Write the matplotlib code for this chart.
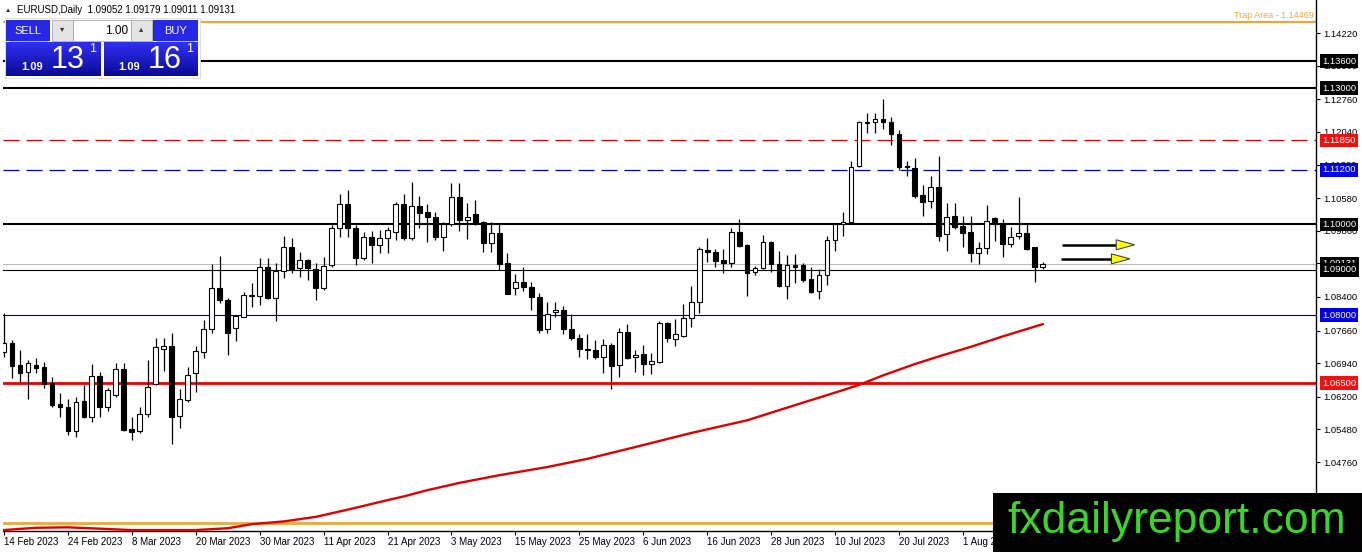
import numpy as np
import matplotlib
matplotlib.use('Agg')
import matplotlib.pyplot as plt
import matplotlib.transforms as mtransforms
from matplotlib.patches import Rectangle, Polygon
from matplotlib.colors import LinearSegmentedColormap

plt.rcParams['font.family'] = ['Liberation Sans', 'DejaVu Sans']

# EURUSD daily candles, 14 Feb 2023 onwards
opens = [1.0719, 1.0738, 1.0690, 1.0674, 1.0690, 1.0686, 1.0650, 1.0604, 1.0597, 1.0544,
         1.0611, 1.0575, 1.0666, 1.0597, 1.0624, 1.0681, 1.0549, 1.0544, 1.0582, 1.0648,
         1.0725, 1.0732, 1.0577, 1.0613, 1.0672, 1.0719, 1.0769, 1.0860, 1.0833, 1.0772,
         1.0796, 1.0842, 1.0842, 1.0906, 1.0838, 1.0897, 1.0950, 1.0904, 1.0921, 1.0902,
         1.0860, 1.0910, 1.0992, 1.1045, 1.0992, 1.0926, 1.0972, 1.0955, 1.0970, 1.0983,
         1.1045, 1.0970, 1.1041, 1.1027, 1.1016, 1.0972, 1.1001, 1.1060, 1.1010, 1.1023,
         1.1005, 1.0959, 1.0981, 1.0915, 1.0860, 1.0873, 1.0862, 1.0840, 1.0769, 1.0807,
         1.0811, 1.0769, 1.0750, 1.0725, 1.0723, 1.0708, 1.0734, 1.0690, 1.0763, 1.0708,
         1.0714, 1.0692, 1.0697, 1.0783, 1.0747, 1.0754, 1.0794, 1.0829, 1.0943, 1.0939,
         1.0921, 1.0915, 1.0983, 1.0955, 1.0895, 1.0904, 1.0961, 1.0913, 1.0864, 1.0910,
         1.0910, 1.0880, 1.0853, 1.0888, 1.0966, 1.1001, 1.1005, 1.1129, 1.1226, 1.1226,
         1.1232, 1.1226, 1.1199, 1.1129, 1.1124, 1.1065, 1.1052, 1.1082, 1.0979, 1.1019,
         1.0997, 1.0983, 1.0937, 1.0948, 1.1014, 1.1001, 1.0957, 1.0974, 1.0981, 1.0950,
         1.09052]
highs = [1.0805, 1.0745, 1.0723, 1.0701, 1.0705, 1.0697, 1.0663, 1.0628, 1.0615, 1.0619,
         1.0646, 1.0692, 1.0674, 1.0639, 1.0694, 1.0694, 1.0575, 1.0597, 1.0701, 1.0750,
         1.0750, 1.0761, 1.0637, 1.0686, 1.0732, 1.0789, 1.0913, 1.0930, 1.0838, 1.0800,
         1.0851, 1.0871, 1.0926, 1.0926, 1.0915, 1.0974, 1.0970, 1.0939, 1.0924, 1.0915,
         1.0928, 1.0999, 1.1067, 1.1076, 1.0999, 1.0983, 1.0985, 1.0988, 1.0994, 1.1049,
         1.1067, 1.1093, 1.1063, 1.1045, 1.1027, 1.1005, 1.1091, 1.1091, 1.1047, 1.1054,
         1.1008, 1.1005, 1.1003, 1.0937, 1.0891, 1.0906, 1.0873, 1.0849, 1.0829, 1.0829,
         1.0820, 1.0802, 1.0758, 1.0758, 1.0745, 1.0747, 1.0738, 1.0772, 1.0780, 1.0723,
         1.0734, 1.0716, 1.0787, 1.0785, 1.0791, 1.0824, 1.0864, 1.0950, 1.0970, 1.0946,
         1.0946, 1.0992, 1.1012, 1.0957, 1.0908, 1.0977, 1.0963, 1.0941, 1.0932, 1.0935,
         1.0915, 1.0906, 1.0902, 1.0974, 1.1003, 1.1027, 1.1140, 1.1228, 1.1246, 1.1246,
         1.1277, 1.1237, 1.1208, 1.1140, 1.1146, 1.1087, 1.1107, 1.1151, 1.1047, 1.1047,
         1.1019, 1.1019, 1.0961, 1.1043, 1.1016, 1.1012, 1.0994, 1.1060, 1.1003, 1.0950,
         1.09179]
lows = [1.0708, 1.0661, 1.0652, 1.0615, 1.0672, 1.0639, 1.0597, 1.0575, 1.0536, 1.0531,
        1.0573, 1.0564, 1.0575, 1.0589, 1.0619, 1.0544, 1.0525, 1.0540, 1.0575, 1.0646,
        1.0677, 1.0516, 1.0551, 1.0608, 1.0630, 1.0705, 1.0761, 1.0827, 1.0712, 1.0743,
        1.0796, 1.0818, 1.0822, 1.0835, 1.0787, 1.0882, 1.0893, 1.0884, 1.0877, 1.0833,
        1.0855, 1.0906, 1.0972, 1.0972, 1.0910, 1.0921, 1.0915, 1.0937, 1.0937, 1.0966,
        1.0966, 1.0966, 1.0992, 1.0961, 1.0966, 1.0941, 1.0997, 1.0985, 1.0968, 1.0999,
        1.0939, 1.0939, 1.0899, 1.0847, 1.0844, 1.0853, 1.0811, 1.0761, 1.0761, 1.0796,
        1.0758, 1.0745, 1.0708, 1.0703, 1.0703, 1.0672, 1.0637, 1.0663, 1.0703, 1.0674,
        1.0668, 1.0670, 1.0694, 1.0741, 1.0732, 1.0752, 1.0774, 1.0805, 1.0917, 1.0906,
        1.0893, 1.0906, 1.0950, 1.0842, 1.0888, 1.0902, 1.0895, 1.0862, 1.0835, 1.0871,
        1.0873, 1.0849, 1.0835, 1.0866, 1.0941, 1.0974, 1.1003, 1.1127, 1.1202, 1.1202,
        1.1210, 1.1175, 1.1120, 1.1107, 1.1058, 1.1019, 1.1036, 1.0963, 1.0941, 1.0990,
        1.0950, 1.0917, 1.0913, 1.0935, 1.0963, 1.0928, 1.0950, 1.0968, 1.0943, 1.0873,
        1.09011]
closes = [1.0738, 1.0688, 1.0672, 1.0694, 1.0683, 1.0648, 1.0602, 1.0597, 1.0544, 1.0608,
          1.0575, 1.0666, 1.0597, 1.0635, 1.0681, 1.0547, 1.0542, 1.0582, 1.0641, 1.0730,
          1.0732, 1.0575, 1.0615, 1.0668, 1.0721, 1.0769, 1.0860, 1.0833, 1.0761, 1.0798,
          1.0844, 1.0844, 1.0906, 1.0838, 1.0897, 1.0950, 1.0902, 1.0921, 1.0904, 1.0860,
          1.0908, 1.0992, 1.1045, 1.0992, 1.0926, 1.0972, 1.0955, 1.0970, 1.0988, 1.1045,
          1.0970, 1.1041, 1.1025, 1.1016, 1.0972, 1.1001, 1.1060, 1.1010, 1.1016, 1.1003,
          1.0959, 1.0981, 1.0913, 1.0847, 1.0873, 1.0862, 1.0840, 1.0767, 1.0802, 1.0811,
          1.0769, 1.0750, 1.0725, 1.0723, 1.0708, 1.0734, 1.0688, 1.0763, 1.0705, 1.0712,
          1.0692, 1.0699, 1.0783, 1.0750, 1.0758, 1.0794, 1.0829, 1.0946, 1.0939, 1.0919,
          1.0915, 1.0983, 1.0952, 1.0893, 1.0904, 1.0961, 1.0913, 1.0864, 1.0910, 1.0906,
          1.0877, 1.0851, 1.0888, 1.0966, 1.1001, 1.1005, 1.1127, 1.1226, 1.1224, 1.1232,
          1.1226, 1.1199, 1.1127, 1.1127, 1.1063, 1.1049, 1.1082, 1.0974, 1.1016, 1.0994,
          1.0981, 1.0937, 1.0948, 1.1008, 1.1001, 1.0957, 1.0972, 1.0981, 1.0946, 1.0906,
          1.09131]

# moving average (red curve), read at these bar indices
ma_bars = [0, 4, 8, 12, 16, 24, 28, 31, 35, 39, 44, 48, 50, 53, 57, 62, 68, 73, 79,
           86, 93, 100, 104, 107, 110, 114, 117, 121, 125, 130]
ma_vals = [1.0326, 1.0331, 1.0332, 1.0329, 1.0326, 1.0326, 1.0330, 1.0339, 1.0345, 1.0355,
           1.0375, 1.0392, 1.0400, 1.0414, 1.0430, 1.0447, 1.0465, 1.0483, 1.0509,
           1.0540, 1.0568, 1.0607, 1.0629, 1.0646, 1.0667, 1.0692, 1.0709, 1.0730, 1.0753, 1.0780]

date_labels = ['14 Feb 2023', '24 Feb 2023', '8 Mar 2023', '20 Mar 2023', '30 Mar 2023',
               '11 Apr 2023', '21 Apr 2023', '3 May 2023', '15 May 2023', '25 May 2023',
               '6 Jun 2023', '16 Jun 2023', '28 Jun 2023', '10 Jul 2023', '20 Jul 2023',
               '1 Aug 2023']
price_ticks = [1.14220, 1.13500, 1.12760, 1.12040, 1.11320, 1.10580, 1.09860, 1.09140,
               1.08400, 1.07660, 1.06940, 1.06200, 1.05480, 1.04760]

# horizontal levels
level_prices = [1.14469, 1.13600, 1.13000, 1.11850, 1.11200, 1.10000, 1.09131, 1.09000, 1.08000, 1.06500, 1.03420]
level_colors = ['#EBA83A', 'black', 'black', '#DD0000', '#0000CC', 'black', '#BBBBBB', 'black', '#000099', '#EE0000', '#EBA83A']
level_widths = [1.6, 1.5, 1.5, 0.9, 0.9, 1.5, 0.8, 0.8, 0.8, 2.0, 2.0]
level_styles = ['-', '-', '-', (0, (12.8, 5.6)), (0, (12.8, 5.6)), '-', '-', '-', '-', '-', '-']

# price boxes on the right scale
box_prices = [1.13600, 1.13000, 1.11850, 1.11200, 1.10000, 1.09131, 1.09000, 1.08000, 1.06500]
box_colors = ['black', 'black', '#EE1111', '#0000EE', 'black', 'black', 'black', '#0000EE', '#EE1111']

arrow_y = [1.0955, 1.0924]
arrow_start = [132.4, 132.3]
arrow_tip = [141.5, 140.9]

W, H = 1362, 552
fig = plt.figure(figsize=(W / 100, H / 100), dpi=100)
ax = fig.add_axes([3 / W, 21 / H, 1313 / W, 531 / H])
ax.set_xlim(-0.125, 164.2)
ax.set_ylim(1.03239, 1.14948)

n = len(opens)
x = np.arange(n)
o = np.array(opens); c = np.array(closes)
hi = np.array(highs); lo = np.array(lows)
up = c >= o

ax.vlines(x, lo, hi, color='black', lw=0.9, zorder=3)
body_h = np.maximum(np.abs(c - o), 0.00004)
ax.bar(x, body_h, bottom=np.minimum(o, c), width=0.6,
       color=np.where(up, 'white', 'black'), edgecolor='black', linewidth=0.8, zorder=4)

for p, col, lw, ls in zip(level_prices, level_colors, level_widths, level_styles):
    ax.axhline(p, color=col, lw=lw, linestyle=ls, zorder=2)

ax.plot(ma_bars, ma_vals, color='#E00000', lw=1.7, zorder=3, solid_joinstyle='round')

ax.annotate('Trap Area - 1.14469', xy=(0.9985, 1.14469), xycoords=('axes fraction', 'data'),
            xytext=(0, 1.5), textcoords='offset points', ha='right', va='bottom',
            fontsize=6.5, color='#EBA83A')

# arrows
for yv, xs, xt in zip(arrow_y, arrow_start, arrow_tip):
    ax.plot([xs, xt - 2.2], [yv, yv], color='black', lw=1.8, zorder=5, solid_capstyle='butt')
    ax.add_patch(Polygon([[xt - 2.3, yv + 0.0011], [xt, yv], [xt - 2.3, yv - 0.0011]],
                         closed=True, facecolor='#FFFF00', edgecolor='#444444', lw=0.8, zorder=6))

for s in ['left', 'top']:
    ax.spines[s].set_visible(False)
ax.spines['right'].set_linewidth(1)
ax.spines['bottom'].set_linewidth(1)

ax.set_xticks(np.arange(0, 8 * len(date_labels), 8))
ax.set_xticklabels(date_labels)
for lab in ax.get_xticklabels():
    lab.set_ha('left')
ax.tick_params(axis='x', length=3, labelsize=7, pad=1.5)

ax.yaxis.tick_right()
ax.set_yticks(price_ticks)
ax.set_yticklabels([f'{v:.5f}' for v in price_ticks])
ax.tick_params(axis='y', length=3, labelsize=6.8, pad=2)

tr = mtransforms.blended_transform_factory(ax.transAxes, ax.transData)
for p, col in zip(box_prices, box_colors):
    ax.text(1.0045, p, f'{p:.5f}', transform=tr, ha='left', va='center', fontsize=6.8,
            color='white', clip_on=False, zorder=8,
            bbox=dict(boxstyle='square,pad=0.25', facecolor=col, edgecolor='none'))

# overlay in pixel coordinates for terminal widgets
ui = fig.add_axes([0, 0, 1, 1], zorder=5)
ui.patch.set_alpha(0)
ui.axis('off')

ui.text(5, 10, '\u25B2', fontsize=4.5, va='center', ha='left', color='#222222')
ui.text(17, 10, 'EURUSD,Daily  1.09052 1.09179 1.09011 1.09131', fontsize=7, va='center', ha='left', color='black')

ui.add_patch(Rectangle((5, 18), 195, 60, facecolor='white', edgecolor='#D8D8D8', lw=0.6, zorder=1))
ui.add_patch(Rectangle((6, 20), 44, 21, facecolor='#2727E6', edgecolor='none', zorder=2))
ui.add_patch(Rectangle((153, 20), 45, 21, facecolor='#2727E6', edgecolor='none', zorder=2))
ui.plot([10, 47], [41.2, 41.2], color='#9A9AF5', lw=0.6, zorder=3)
ui.plot([157, 194], [41.2, 41.2], color='#9A9AF5', lw=0.6, zorder=3)
ui.add_patch(Rectangle((52, 20), 21, 21, facecolor='#E4E4E4', edgecolor='#A8A8A8', lw=0.6, zorder=2))
ui.add_patch(Rectangle((73, 20), 58, 21, facecolor='white', edgecolor='#A8A8A8', lw=0.6, zorder=2))
ui.add_patch(Rectangle((131, 20), 21, 21, facecolor='#E4E4E4', edgecolor='#A8A8A8', lw=0.6, zorder=2))
ui.text(62.5, 30, '\u25BE', fontsize=6, ha='center', va='center', color='#333333', zorder=4)
ui.text(141.5, 30, '\u25B4', fontsize=6, ha='center', va='center', color='#333333', zorder=4)
ui.text(128, 30.5, '1.00', fontsize=8.5, ha='right', va='center', color='black', zorder=4)
ui.text(28, 30.5, 'SELL', fontsize=8, ha='center', va='center', color='white', zorder=4)
ui.text(175.5, 30.5, 'BUY', fontsize=8, ha='center', va='center', color='white', zorder=4)

grad_cmap = LinearSegmentedColormap.from_list('btn', ['#3030F2', '#0A0A96'])
grad = np.linspace(0, 1, 60).reshape(-1, 1)
for x0, x1 in [(6, 101), (104, 198)]:
    ui.imshow(grad, cmap=grad_cmap, extent=[x0, x1, 76, 42], aspect='auto', zorder=2,
              interpolation='bilinear')

for x0, big in [(21, '13'), (118, '16')]:
    ui.text(x0, 66.5, '1.09', fontsize=8, fontweight='bold', ha='left', va='center', color='white', zorder=4)
    ui.text(x0 + 30, 60.5, big, fontsize=22, ha='left', va='center', color='white', zorder=4)
    ui.text(x0 + 68, 49, '1', fontsize=9, ha='left', va='center', color='white', zorder=4)

# watermark
ui.add_patch(Rectangle((993, 493), 369, 59, facecolor='black', edgecolor='none', zorder=6))
ui.text(1177, 522, 'fxdailyreport.com', fontsize=32, ha='center', va='center', color='#3BD42B', zorder=7)

ui.set_xlim(0, W)
ui.set_ylim(H, 0)

fig.savefig('out.png', dpi=100)
